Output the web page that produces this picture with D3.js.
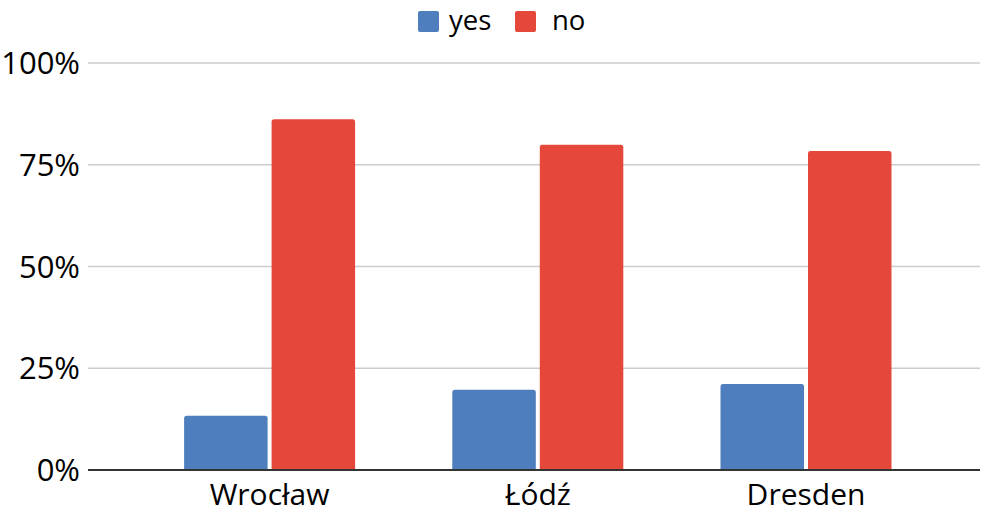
<!DOCTYPE html>
<html><head><meta charset="utf-8">
<script src="https://cdn.jsdelivr.net/npm/d3@7"></script>
<style>html,body{margin:0;padding:0;background:#fff;}svg{display:block;font-family:"Open Sans",sans-serif;}</style>
</head><body><svg id="c" width="993" height="516"></svg>
<script>
const categories = ["Wrocław", "Łódź", "Dresden"];
const seriesNames = ["yes", "no"];
const yesValues = [13.3, 19.7, 21.1];
const noValues = [86.2, 79.9, 78.4];
const yTicks = [0, 25, 50, 75, 100];
const colors = {yes: "#4e7ebd", no: "#e5473b"};

const svg = d3.select("#c");
const gridLeft = 88, gridRight = 980;
const y = d3.scaleLinear().domain([0, 100]).range([470, 63]);
const x0 = d3.scaleBand().domain(categories).range([135.5, 940.1]).padding(0);
const groupW = 171;
const x1 = d3.scaleBand().domain(seriesNames)
  .range([(x0.step() - groupW) / 2, (x0.step() + groupW) / 2])
  .paddingInner(4 / 87.5).paddingOuter(0);

// gridlines
svg.append("g").selectAll("line").data(yTicks.filter(d => d > 0)).join("line")
  .attr("x1", gridLeft).attr("x2", gridRight)
  .attr("y1", d => y(d)).attr("y2", d => y(d))
  .attr("stroke", "#cccccc").attr("stroke-width", 1.3);

// y labels
svg.append("g").selectAll("text").data(yTicks).join("text")
  .attr("x", 80).attr("y", d => y(d)).attr("dy", "0.36em")
  .attr("text-anchor", "end").attr("font-size", 31).attr("fill", "#000")
  .text(d => d + "%");

const data = categories.map((c, i) => ({cat: c, yes: yesValues[i], no: noValues[i]}));
function roundTop(x, yTop, w, h, r) {
  return `M${x},${yTop + h}V${yTop + r}Q${x},${yTop} ${x + r},${yTop}H${x + w - r}Q${x + w},${yTop} ${x + w},${yTop + r}V${yTop + h}Z`;
}
const g = svg.append("g");
data.forEach(d => {
  seriesNames.forEach(s => {
    const bx = x0(d.cat) + x1(s);
    const top = y(d[s]);
    g.append("path")
      .attr("d", roundTop(bx, top, x1.bandwidth(), y(0) - top, 2.5))
      .attr("fill", colors[s]);
  });
});

// axis line
svg.append("line").attr("x1", gridLeft).attr("x2", gridRight)
  .attr("y1", y(0)).attr("y2", y(0)).attr("stroke", "#333").attr("stroke-width", 2);

// x labels
svg.append("g").selectAll("text").data(categories).join("text")
  .attr("x", d => x0(d) + x0.bandwidth() / 2).attr("y", 505)
  .attr("text-anchor", "middle").attr("font-size", 30).attr("fill", "#000")
  .text(d => d);

// legend
const legend = svg.append("g");
const legendItems = [{s: "yes", x: 418, tx: 449}, {s: "no", x: 515, tx: 552}];
legendItems.forEach(it => {
  legend.append("rect").attr("x", it.x).attr("y", 11).attr("width", 21).attr("height", 21)
    .attr("rx", 2).attr("fill", colors[it.s]);
  legend.append("text").attr("x", it.tx).attr("y", 30).attr("font-size", 27.5)
    .attr("fill", "#000").text(it.s);
});
</script></body></html>
